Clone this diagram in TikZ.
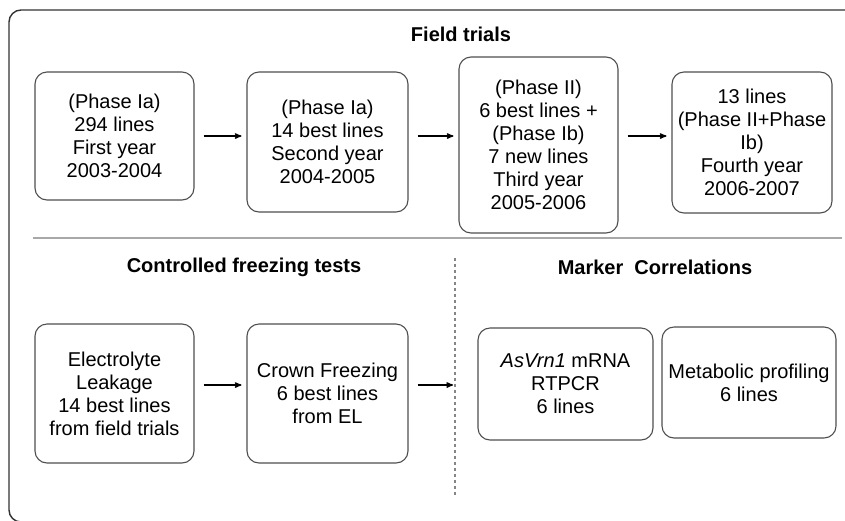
\documentclass[tikz,border=0pt]{standalone}
\usepackage{fontspec}
\setmainfont{Liberation Sans}
\usepackage{xcolor}
\usetikzlibrary{arrows}
\definecolor{boxgray}{HTML}{4F4F4F}
\definecolor{framegray}{HTML}{333333}
\definecolor{rulegray}{HTML}{A8A8A8}

\begin{document}
\begin{tikzpicture}[x=1pt,y=-1pt,>=stealth',thick,
	box node/.style={draw=boxgray,line width=1.1pt,rounded corners=12pt,align=center,
		inner sep=0pt,font=\fontsize{20}{23}\selectfont},
	head node/.style={font=\fontsize{20}{24}\selectfont\bfseries},
	flow/.style={->,line width=1.3pt,shorten <=9pt,shorten >=5pt}]

	\useasboundingbox (0,0) rectangle (845,520);
	\draw[framegray,line width=1.4pt,rounded corners=12pt] (9,10) rectangle (900,522);

	% field trials
	\node[head node] (ft) at (461,34) {Field trials};
	\node[box node,minimum width=159pt,minimum height=128pt] (p1) at (114.5,136) {(Phase Ia)\\294 lines\\First year\\2003-2004};
	\node[box node,minimum width=161pt,minimum height=140pt] (p2) at (327.5,142) {(Phase Ia)\\14 best lines\\Second year\\2004-2005};
	\node[box node,minimum width=159pt,minimum height=176pt] (p3) at (538.5,145) {(Phase II)\\6 best lines +\\(Phase Ib)\\7 new lines\\Third year\\2005-2006};
	\node[box node,minimum width=160pt,minimum height=141pt] (p4) at (752,142.5) {13 lines\\(Phase II+Phase\\Ib)\\Fourth year\\2006-2007};

	\draw[flow] (p1.east) -- (p2.west |- p1.east);
	\draw[flow] (p2.east |- p1.east) -- (p3.west |- p1.east);
	\draw[flow] (p3.east |- p1.east) -- (p4.west |- p1.east);

	\draw[rulegray,line width=2.4pt] (33,238) -- (842,238);

	% freezing tests and markers
	\node[head node] (cf) at (244,267) {Controlled freezing tests};
	\node[head node] (mc) at (655,267) {Marker~~Correlations};
	\coordinate (dtop) at (455,258);
	\coordinate (dbot) at (455,497);
	\draw[rulegray!80!black,line width=1.4pt,dash pattern=on 3pt off 3pt] (dtop) -- (dbot);

	\node[box node,minimum width=159pt,minimum height=139pt] (el) at (114.5,393.5) {Electrolyte\\Leakage\\14 best lines\\from field trials};
	\node[box node,minimum width=161pt,minimum height=139pt] (cr) at (327.5,393.5) {Crown Freezing\\6 best lines\\from EL};
	\node[box node,minimum width=175pt,minimum height=112pt] (vrn) at (565.5,384) {\textit{AsVrn1} mRNA\\RTPCR\\6 lines};
	\node[box node,minimum width=174pt,minimum height=111pt] (met) at (749,382.5) {Metabolic profiling\\6 lines};

	\draw[flow] ([yshift=8.5pt]el.east) -- ([yshift=8.5pt]cr.west);
	\draw[flow,shorten >=2pt] ([yshift=8.5pt]cr.east) -- ([yshift=8.5pt]cr.east -| dtop);
\end{tikzpicture}
\end{document}
